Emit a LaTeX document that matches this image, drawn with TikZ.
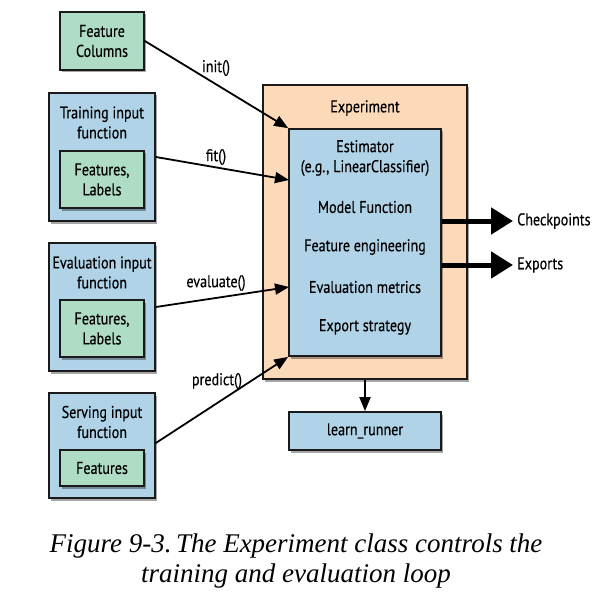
\documentclass[tikz,border=0pt]{standalone}
\usepackage{fontspec}
\setmainfont{Liberation Serif}
\newfontfamily\diafont{PT Sans}[FakeStretch=0.83,FakeBold=0.4]
\usetikzlibrary{arrows.meta,shadows}
\definecolor{boxgreen}{HTML}{AEDCC4}
\definecolor{boxblue}{HTML}{B0D3E8}
\definecolor{boxpeach}{HTML}{FCD9B8}
\definecolor{edge}{HTML}{1A1A1A}
\tikzset{
  base/.style={draw=edge, line width=1.7pt, inner sep=0pt, rectangle,
    drop shadow={shadow xshift=2pt, shadow yshift=-2.5pt, opacity=0.35, fill=black}},
  greenbox/.style={base, fill=boxgreen},
  bluebox/.style={base, fill=boxblue},
  peachbox/.style={base, fill=boxpeach},
  lbl/.style={font=\diafont\fontsize{17}{20}\selectfont, align=center, inner sep=0pt, text=black},
  arr/.style={line width=1.8pt, -{Triangle[length=14pt,width=11pt]}},
  bigarr/.style={line width=5pt, shorten >=4pt, -{Triangle[length=22pt,width=26pt]}},
}
\begin{document}
\begin{tikzpicture}[x=1pt,y=-1pt]
\path[use as bounding box, fill=white] (0,0) rectangle (605,599);

% left boxes
\node[greenbox, minimum width=84, minimum height=58] (fc) at (102,41) {};
\node[lbl] (fct) at (102,41) {Feature\\Columns};

\node[bluebox, minimum width=106, minimum height=128] (train) at (102,157) {};
\node[lbl] (traint) at (102,122.5) {Training input\\function};
\node[greenbox, minimum width=84, minimum height=57] (trainin) at (102,179.5) {};
\node[lbl] (trainint) at (102,179.5) {Features,\\Labels};

\node[bluebox, minimum width=106, minimum height=128] (eval) at (102,307) {};
\node[lbl] (evalt) at (102,272.5) {Evaluation input\\function};
\node[greenbox, minimum width=84, minimum height=57] (evalin) at (102,328.5) {};
\node[lbl] (evalint) at (102,328.5) {Features,\\Labels};

\node[bluebox, minimum width=106, minimum height=105] (serve) at (102,445.5) {};
\node[lbl] (servet) at (102,422) {Serving input\\function};
\node[greenbox, minimum width=84, minimum height=36] (servein) at (102,468) {};
\node[lbl] (serveint) at (102,468) {Features};

% experiment
\node[peachbox, minimum width=204, minimum height=294] (exp) at (365,232) {};
\node[lbl] (expt) at (365,108) {Experiment};
\node[bluebox, minimum width=152, minimum height=227] (est) at (365,242.5) {};
\node[lbl] (e1) at (365,158) {Estimator\\(e.g., LinearClassifier)};
\node[lbl] (e2) at (365,207) {Model Function};
\node[lbl] (e3) at (365,247) {Feature engineering};
\node[lbl] (e4) at (365,287) {Evaluation metrics};
\node[lbl] (e5) at (365,327) {Export strategy};

\node[bluebox, minimum width=152, minimum height=38] (lr) at (365,431) {};
\node[lbl] (lrt) at (365,431) {learn\_runner};

% outputs
\node[lbl, anchor=west] (ck) at (517,221) {Checkpoints};
\node[lbl, anchor=west] (ex) at (517,265) {Exports};
\draw[bigarr] (est.east |- ck.west) -- (ck.west);
\draw[bigarr] (est.east |- ex.west) -- (ex.west);

% inputs
\coordinate (fitend) at (289,180);
\coordinate (evalend) at (289,287);
\draw[arr] (fc.east) -- (est.north west);
\draw[arr] (train.east) -- (fitend);
\draw[arr] (eval.east) -- (evalend);
\draw[arr] ([yshift=2.5pt]serve.east) -- (est.south west);
\draw[arr] (exp.south) -- (lr.north);

\node[lbl] (l1) at (216,68) {init()};
\node[lbl] (l2) at (216,157) {fit()};
\node[lbl] (l3) at (216,283) {evaluate()};
\node[lbl] (l4) at (217,381) {predict()};

% caption
\node[font=\itshape\fontsize{27}{30}\selectfont, align=center, inner sep=0pt, anchor=base] (cap1) at (296,552) {Figure 9-3.\,The Experiment class controls the};
\node[font=\itshape\fontsize{27}{30}\selectfont, align=center, inner sep=0pt, anchor=base] (cap2) at (296,582) {training and evaluation loop};
\end{tikzpicture}
\end{document}
